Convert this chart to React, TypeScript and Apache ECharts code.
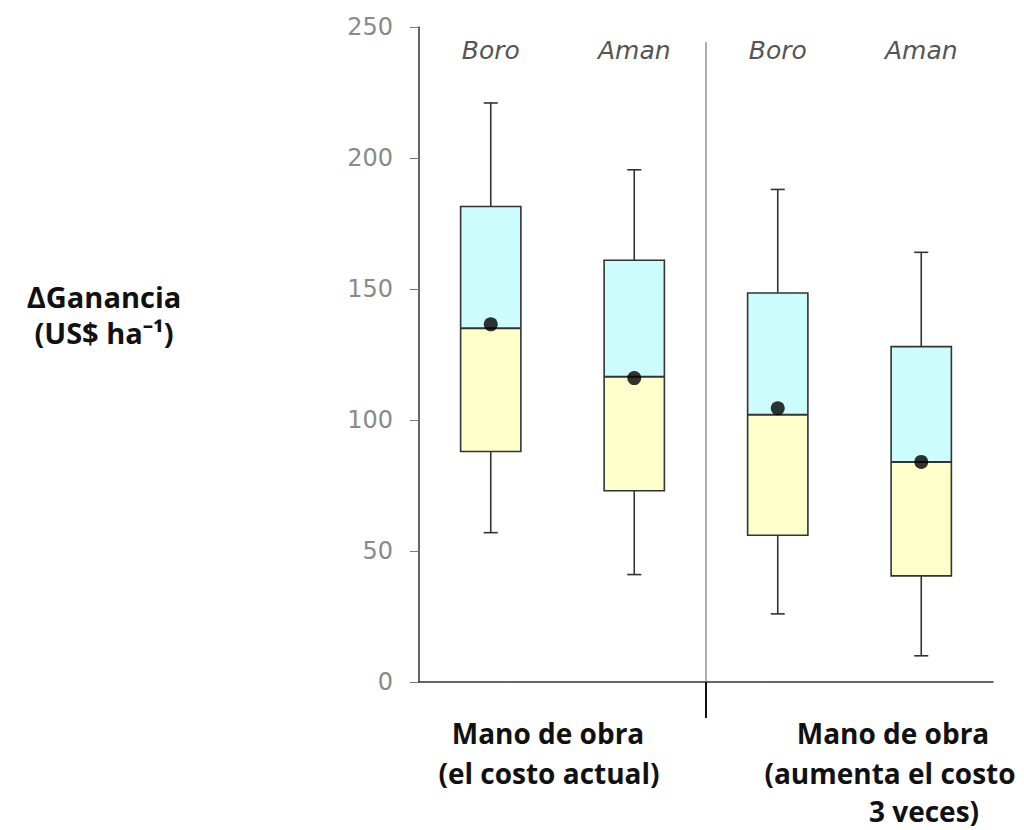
import React, { useEffect, useRef } from "react";
import * as echarts from "echarts";

const categories = ["Boro", "Aman", "Boro", "Aman"];
const whiskerLow = [57, 41, 26, 10];
const q1 = [88, 73, 56, 40.5];
const median = [135, 116.5, 102, 84];
const q3 = [181.5, 161, 148.5, 128];
const whiskerHigh = [221, 195.5, 188, 164];
const means = [136.5, 116, 104.5, 84];
const yTicks = { min: 0, max: 250, interval: 50 };
const groupLabelLeft = ["Mano de obra", "(el costo actual)"];
const groupLabelRight = ["Mano de obra", "(aumenta el costo", "3 veces)"];
const yTitle = ["ΔGanancia", "(US$ ha⁻¹)"];

export default function App() {
  const ref = useRef<HTMLDivElement>(null);
  useEffect(() => {
    if (!ref.current) return;
    const chart = echarts.init(ref.current, null, { renderer: "svg" });
    const boxData = categories.map((_, i) => [
      i,
      whiskerLow[i],
      q1[i],
      median[i],
      q3[i],
      whiskerHigh[i],
    ]);
    const dark = "#333";
    const boldText = (text: string, x: number, y: number, size: number) => ({
      type: "text",
      x,
      y,
      style: {
        text,
        fontFamily: "Open Sans",
        fontWeight: "bold",
        fontSize: size,
        fill: "#111",
        align: "center",
        verticalAlign: "middle",
      },
    });
    const option: any = {
      animation: false,
      backgroundColor: "#fff",
      grid: { left: 419, right: 31, top: 27, bottom: 148 },
      xAxis: [
        {
          type: "category",
          data: categories,
          position: "bottom",
          axisLine: { lineStyle: { color: dark, width: 1.5 } },
          axisTick: { show: false },
          axisLabel: { show: false },
          splitLine: { show: false },
        },
        {
          type: "category",
          data: categories,
          position: "top",
          axisLine: { show: false },
          axisTick: { show: false },
          axisLabel: {
            inside: true,
            margin: 11,
            color: "#555",
            fontStyle: "italic",
            fontFamily: "DejaVu Sans",
            fontSize: 25,
          },
        },
      ],
      yAxis: {
        type: "value",
        min: yTicks.min,
        max: yTicks.max,
        interval: yTicks.interval,
        axisLine: { show: true, lineStyle: { color: dark, width: 1.5 } },
        axisTick: { show: true, length: 9, lineStyle: { color: "#777" } },
        axisLabel: {
          margin: 26,
          color: "#8a8a8a",
          fontFamily: "DejaVu Sans",
          fontSize: 24,
        },
        splitLine: { show: false },
      },
      graphic: [
        boldText(yTitle[0], 104, 296, 29),
        boldText(yTitle[1], 104, 332, 29),
        boldText(groupLabelLeft[0], 548, 733, 28),
        boldText(groupLabelLeft[1], 549, 773, 28),
        boldText(groupLabelRight[0], 893, 733, 28),
        boldText(groupLabelRight[1], 890, 773, 28),
        boldText(groupLabelRight[2], 924, 811, 28),
      ],
      series: [
        {
          type: "custom",
          xAxisIndex: 0,
          clip: false,
          data: boxData,
          encode: { x: 0, y: [1, 2, 3, 4, 5] },
          renderItem: (params: any, api: any) => {
            const i = api.value(0);
            const band = api.size([1, 0])[0];
            const w = band * 0.42;
            const cap = 14;
            const cx = api.coord([i, 0])[0];
            const yLow = api.coord([i, api.value(1)])[1];
            const yQ1 = api.coord([i, api.value(2)])[1];
            const yMed = api.coord([i, api.value(3)])[1];
            const yQ3 = api.coord([i, api.value(4)])[1];
            const yHigh = api.coord([i, api.value(5)])[1];
            const x0 = cx - w / 2;
            const ls = { stroke: dark, lineWidth: 1.6 };
            const children: any[] = [
              { type: "line", shape: { x1: cx, y1: yHigh, x2: cx, y2: yQ3 }, style: ls },
              { type: "line", shape: { x1: cx, y1: yQ1, x2: cx, y2: yLow }, style: ls },
              {
                type: "line",
                shape: { x1: cx - cap / 2, y1: yHigh, x2: cx + cap / 2, y2: yHigh },
                style: ls,
              },
              {
                type: "line",
                shape: { x1: cx - cap / 2, y1: yLow, x2: cx + cap / 2, y2: yLow },
                style: ls,
              },
              {
                type: "rect",
                shape: { x: x0, y: yMed, width: w, height: yQ1 - yMed },
                style: { fill: "#ffffcc" },
              },
              {
                type: "rect",
                shape: { x: x0, y: yQ3, width: w, height: yMed - yQ3 },
                style: { fill: "#ccfcfc" },
              },
              {
                type: "rect",
                shape: { x: x0, y: yQ3, width: w, height: yQ1 - yQ3 },
                style: { fill: "none", stroke: dark, lineWidth: 1.6 },
              },
              {
                type: "line",
                shape: { x1: x0, y1: yMed, x2: x0 + w, y2: yMed },
                style: { stroke: dark, lineWidth: 2 },
              },
            ];
            if (params.dataIndex === 1) {
              const sys = params.coordSys;
              const dx = cx + band / 2;
              children.push({
                type: "line",
                shape: { x1: dx, y1: sys.y + 15, x2: dx, y2: sys.y + sys.height },
                style: { stroke: "#777", lineWidth: 1.2 },
              });
              children.push({
                type: "line",
                shape: { x1: dx, y1: sys.y + sys.height, x2: dx, y2: sys.y + sys.height + 36 },
                style: { stroke: "#111", lineWidth: 2 },
              });
            }
            return { type: "group", children };
          },
          z: 2,
        },
        {
          type: "scatter",
          xAxisIndex: 0,
          data: means.map((m, i) => [i, m]),
          symbol: "circle",
          symbolSize: 14,
          itemStyle: { color: "#000" },
          z: 5,
        },
      ],
    };
    chart.setOption(option);
    return () => chart.dispose();
  }, []);
  return (
    <div
      ref={ref}
      style={{ position: "fixed", left: 0, top: 0, width: 1024, height: 830 }}
    />
  );
}
